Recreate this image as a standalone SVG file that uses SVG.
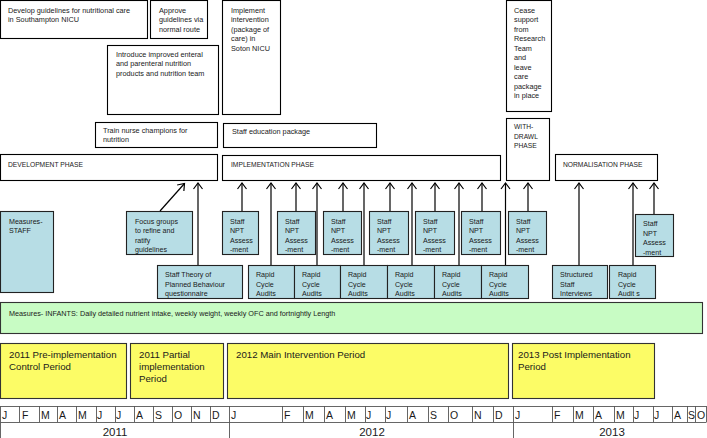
<svg xmlns="http://www.w3.org/2000/svg" width="707" height="438" viewBox="0 0 707 438">
<defs>
<style>
text{font-family:"Liberation Sans",Arial,sans-serif;fill:#1a1a1a}
.box{fill:#fff;stroke:#000;stroke-width:1.1}
.blue{fill:#b7dde5;stroke:#222;stroke-width:1.1}
.green{fill:#c8fcc4;stroke:#333;stroke-width:1.1}
.yel{fill:#fcfc66;stroke:#333;stroke-width:1.1}
.s{font-size:7.3px}
.ph{font-size:6.7px}
.b{font-size:7.1px}
.g{font-size:7.25px}
.y{font-size:9.7px}
.m{font-size:10.5px}
.yr{font-size:11.5px}
.tl{stroke:#555;stroke-width:0.9;fill:none}
.arr{stroke:#000;stroke-width:1.2;fill:none;marker-end:url(#ah)}
</style>
<marker id="ah" viewBox="-7 -6 9 12" markerWidth="9" markerHeight="12" refX="0" refY="0" orient="auto" markerUnits="userSpaceOnUse">
<path d="M-6,-4.5 L0,0 L-6,4.5" fill="none" stroke="#000" stroke-width="1.2"/>
</marker>
</defs>

<!-- top boxes -->
<g id="develop-guidelines"><rect class="box" x="0.5" y="0.5" width="147" height="38"/>
<text class="s" x="8" y="12.5">Develop guidelines for nutritional care</text>
<text class="s" x="8" y="22">in Southampton NICU</text></g>
<g id="approve-guidelines"><rect class="box" x="150.5" y="0.5" width="57" height="38"/>
<text class="s" x="159" y="12.5">Approve</text>
<text class="s" x="159" y="22">guidelines via</text>
<text class="s" x="159" y="31.5">normal  route</text></g>
<g id="introduce"><rect class="box" x="107.5" y="45.5" width="111" height="69"/>
<text class="s" x="116" y="56.5">Introduce improved enteral</text>
<text class="s" x="116" y="66">and parenteral  nutrition</text>
<text class="s" x="116" y="75.5">products and nutrition team</text></g>
<g id="train-nurse"><rect class="box" x="95.5" y="122.5" width="122" height="25"/>
<text class="s" x="103" y="132.5">Train nurse champions for</text>
<text class="s" x="103" y="142">nutrition</text></g>
<g id="development-phase"><rect class="box" x="0.5" y="154.5" width="217" height="26"/>
<text class="ph" x="8" y="166.5">DEVELOPMENT PHASE</text></g>

<g id="implement-intervention"><rect class="box" x="222.5" y="0.5" width="58" height="114"/>
<text class="s" x="231" y="12.5">Implement</text>
<text class="s" x="231" y="22">intervention</text>
<text class="s" x="231" y="31.5">(package of</text>
<text class="s" x="231" y="41">care) in</text>
<text class="s" x="231" y="50.5">Soton NICU</text></g>
<g id="staff-education"><rect class="box" x="223.5" y="123.5" width="153" height="24"/>
<text class="s" x="232" y="133.5">Staff  education  package</text></g>
<g id="implementation-phase"><rect class="box" x="222.5" y="155.5" width="278" height="25"/>
<text class="ph" x="231" y="166.5">IMPLEMENTATION PHASE</text></g>

<g id="cease-support"><rect class="box" x="506.5" y="0.5" width="45" height="111"/>
<text class="s" x="514" y="12.5">Cease</text>
<text class="s" x="514" y="22">support</text>
<text class="s" x="514" y="31.5">from</text>
<text class="s" x="514" y="41">Research</text>
<text class="s" x="514" y="50.5">Team</text>
<text class="s" x="514" y="60">and</text>
<text class="s" x="514" y="69.5">leave</text>
<text class="s" x="514" y="79">care</text>
<text class="s" x="514" y="88.5">package</text>
<text class="s" x="514" y="98">in place</text></g>
<g id="withdrawal-phase"><rect class="box" x="506.5" y="118.5" width="43" height="62"/>
<text class="ph" x="514" y="129">WITH-</text>
<text class="ph" x="514" y="138.5">DRAWL</text>
<text class="ph" x="514" y="148">PHASE</text></g>
<g id="normalisation-phase"><rect class="box" x="555.5" y="154.5" width="102" height="26"/>
<text class="ph" x="563" y="166.5">NORMALISATION PHASE</text></g>

<!-- measures staff -->
<g id="measures-staff"><rect class="blue" x="0.5" y="211.5" width="53" height="81"/>
<text class="b" x="9" y="223.5">Measures-</text>
<text class="b" x="9" y="233">STAFF</text></g>
<g id="focus-groups"><rect class="blue" x="126.5" y="211.5" width="66" height="43"/>
<text class="b" x="135" y="223.5">Focus groups</text>
<text class="b" x="135" y="233">to refine and</text>
<text class="b" x="135" y="242.5">ratify</text>
<text class="b" x="135" y="252">guidelines</text></g>
<g id="staff-theory"><rect class="blue" x="157.5" y="265.5" width="85" height="33"/>
<text class="b" x="165" y="277">Staff Theory of</text>
<text class="b" x="165" y="286.5">Planned Behaviour</text>
<text class="b" x="165" y="296">questionnaire</text></g>

<g id="npt1"><rect class="blue" x="222.5" y="211.5" width="36" height="43"/>
<text class="b" x="230" y="223.5">Staff</text><text class="b" x="230" y="233">NPT</text><text class="b" x="230" y="242.5">Assess</text><text class="b" x="230" y="252">-ment</text></g>
<g id="npt2"><rect class="blue" x="277.5" y="211.5" width="38" height="43"/>
<text class="b" x="285" y="223.5">Staff</text><text class="b" x="285" y="233">NPT</text><text class="b" x="285" y="242.5">Assess</text><text class="b" x="285" y="252">-ment</text></g>
<g id="npt3"><rect class="blue" x="323.5" y="211.5" width="38" height="43"/>
<text class="b" x="331" y="223.5">Staff</text><text class="b" x="331" y="233">NPT</text><text class="b" x="331" y="242.5">Assess</text><text class="b" x="331" y="252">-ment</text></g>
<g id="npt4"><rect class="blue" x="369.5" y="211.5" width="39" height="43"/>
<text class="b" x="377" y="223.5">Staff</text><text class="b" x="377" y="233">NPT</text><text class="b" x="377" y="242.5">Assess</text><text class="b" x="377" y="252">-ment</text></g>
<g id="npt5"><rect class="blue" x="415.5" y="211.5" width="39" height="43"/>
<text class="b" x="423" y="223.5">Staff</text><text class="b" x="423" y="233">NPT</text><text class="b" x="423" y="242.5">Assess</text><text class="b" x="423" y="252">-ment</text></g>
<g id="npt6"><rect class="blue" x="461.5" y="211.5" width="39" height="43"/>
<text class="b" x="469" y="223.5">Staff</text><text class="b" x="469" y="233">NPT</text><text class="b" x="469" y="242.5">Assess</text><text class="b" x="469" y="252">-ment</text></g>
<g id="npt7"><rect class="blue" x="508.5" y="211.5" width="38" height="43"/>
<text class="b" x="516" y="223.5">Staff</text><text class="b" x="516" y="233">NPT</text><text class="b" x="516" y="242.5">Assess</text><text class="b" x="516" y="252">-ment</text></g>
<g id="npt8"><rect class="blue" x="635.5" y="214.5" width="38" height="42"/>
<text class="b" x="643" y="226">Staff</text><text class="b" x="643" y="235.5">NPT</text><text class="b" x="643" y="245">Assess</text><text class="b" x="643" y="254.5">-ment</text></g>

<g id="rca1"><rect class="blue" x="248.5" y="265.5" width="46" height="33"/>
<text class="b" x="256" y="277">Rapid</text><text class="b" x="256" y="286.5">Cycle</text><text class="b" x="256" y="296">Audits</text></g>
<g id="rca2"><rect class="blue" x="294.5" y="265.5" width="46" height="33"/>
<text class="b" x="302" y="277">Rapid</text><text class="b" x="302" y="286.5">Cycle</text><text class="b" x="302" y="296">Audits</text></g>
<g id="rca3"><rect class="blue" x="340.5" y="265.5" width="47" height="33"/>
<text class="b" x="348" y="277">Rapid</text><text class="b" x="348" y="286.5">Cycle</text><text class="b" x="348" y="296">Audits</text></g>
<g id="rca4"><rect class="blue" x="387.5" y="265.5" width="47" height="33"/>
<text class="b" x="395" y="277">Rapid</text><text class="b" x="395" y="286.5">Cycle</text><text class="b" x="395" y="296">Audits</text></g>
<g id="rca5"><rect class="blue" x="434.5" y="265.5" width="47" height="33"/>
<text class="b" x="442" y="277">Rapid</text><text class="b" x="442" y="286.5">Cycle</text><text class="b" x="442" y="296">Audits</text></g>
<g id="rca6"><rect class="blue" x="481.5" y="265.5" width="47" height="33"/>
<text class="b" x="489" y="277">Rapid</text><text class="b" x="489" y="286.5">Cycle</text><text class="b" x="489" y="296">Audits</text></g>
<g id="structured-interviews"><rect class="blue" x="552.5" y="265.5" width="55" height="33"/>
<text class="b" x="560" y="277">Structured</text><text class="b" x="560" y="286.5">Staff</text><text class="b" x="560" y="296">Interviews</text></g>
<g id="rca7"><rect class="blue" x="609.5" y="265.5" width="46" height="33"/>
<text class="b" x="618" y="277">Rapid</text><text class="b" x="618" y="286.5">Cycle</text><text class="b" x="618" y="296">Audit s</text></g>

<!-- connectors -->
<g id="connectors">
<line class="arr" x1="160" y1="211" x2="184.5" y2="183.5"/>
<line class="arr" x1="198" y1="265" x2="198" y2="183"/>
<line class="arr" x1="242" y1="211" x2="242" y2="183"/>
<line class="arr" x1="271" y1="265" x2="271" y2="183"/>
<line class="arr" x1="296" y1="211" x2="296" y2="183"/>
<line class="arr" x1="317" y1="265" x2="317" y2="183"/>
<line class="arr" x1="343" y1="211" x2="343" y2="183"/>
<line class="arr" x1="364" y1="265" x2="364" y2="183"/>
<line class="arr" x1="390" y1="211" x2="390" y2="183"/>
<line class="arr" x1="412" y1="265" x2="412" y2="183"/>
<line class="arr" x1="435" y1="211" x2="435" y2="183"/>
<line class="arr" x1="459" y1="265" x2="459" y2="183"/>
<line class="arr" x1="482" y1="211" x2="482" y2="183"/>
<line class="arr" x1="505.5" y1="265" x2="505.5" y2="183"/>
<line class="arr" x1="528" y1="211" x2="528" y2="183"/>
<line class="arr" x1="579" y1="265" x2="579" y2="183"/>
<line class="arr" x1="633" y1="265" x2="633" y2="183"/>
<line class="arr" x1="654" y1="214" x2="654" y2="183"/>
</g>

<!-- infants measures -->
<g id="measures-infants"><rect class="green" x="0.5" y="302.5" width="702" height="31"/>
<text class="g" x="9" y="316">Measures- INFANTS: Daily detailed nutrient intake, weekly weight, weekly OFC and fortnightly Length</text></g>

<!-- periods -->
<g id="period-2011-pre"><rect class="yel" x="0.5" y="343.5" width="126" height="55"/>
<text class="y" x="9" y="357.5">2011 Pre-implementation</text>
<text class="y" x="9" y="369.5">Control Period</text></g>
<g id="period-2011-partial"><rect class="yel" x="130.5" y="343.5" width="93" height="55"/>
<text class="y" x="139" y="357.5">2011 Partial</text>
<text class="y" x="139" y="369.5">implementation</text>
<text class="y" x="139" y="381.5">Period</text></g>
<g id="period-2012-main"><rect class="yel" x="227.5" y="343.5" width="281" height="55"/>
<text class="y" x="236" y="357.5">2012 Main Intervention Period</text></g>
<g id="period-2013-post"><rect class="yel" x="512.5" y="343.5" width="142" height="55"/>
<text class="y" x="518" y="357.5">2013 Post Implementation</text>
<text class="y" x="518" y="369.5">Period</text></g>

<!-- timeline -->
<g id="timeline">
<path class="tl" d="M0.5,406.5 H706.5 M0.5,422.5 H706.5 M0.5,406 V438 M229.5,406 V438 M513.5,406 V438 M706.5,406 V422"/>
<path class="tl" d="M19.5,406 V422 M39.5,406 V422 M57.5,406 V422 M76.5,406 V422 M96.5,406 V422 M115.5,406 V422 M134.5,406 V422 M153.5,406 V422 M172.5,406 V422 M191.5,406 V422 M210.5,406 V422
M282.5,406 V422 M303.5,406 V422 M324.5,406 V422 M345.5,406 V422 M365.5,406 V422 M385.5,406 V422 M407.5,406 V422 M428.5,406 V422 M448.5,406 V422 M472.5,406 V422 M493.5,406 V422
M552.5,406 V422 M573.5,406 V422 M593.5,406 V422 M614.5,406 V422 M633.5,406 V422 M653.5,406 V422 M672.5,406 V422 M687.5,406 V422 M695.5,406 V422"/>
<text class="m" x="2" y="419">J</text><text class="m" x="22" y="419">F</text><text class="m" x="41" y="419">M</text><text class="m" x="59" y="419">A</text><text class="m" x="78" y="419">M</text><text class="m" x="97" y="419">J</text><text class="m" x="116" y="419">J</text><text class="m" x="136" y="419">A</text><text class="m" x="155" y="419">S</text><text class="m" x="174" y="419">O</text><text class="m" x="193" y="419">N</text><text class="m" x="212" y="419">D</text>
<text class="m" x="231" y="419">J</text><text class="m" x="284" y="419">F</text><text class="m" x="305" y="419">M</text><text class="m" x="326" y="419">A</text><text class="m" x="347" y="419">M</text><text class="m" x="366" y="419">J</text><text class="m" x="386" y="419">J</text><text class="m" x="409" y="419">A</text><text class="m" x="430" y="419">S</text><text class="m" x="450" y="419">O</text><text class="m" x="474" y="419">N</text><text class="m" x="495" y="419">D</text>
<text class="m" x="515" y="419">J</text><text class="m" x="554" y="419">F</text><text class="m" x="575" y="419">M</text><text class="m" x="595" y="419">A</text><text class="m" x="616" y="419">M</text><text class="m" x="634" y="419">J</text><text class="m" x="654" y="419">J</text><text class="m" x="674" y="419">A</text><text class="m" x="688" y="419">S</text><text class="m" x="697" y="419">O</text>
<text class="yr" x="115" y="436" text-anchor="middle">2011</text>
<text class="yr" x="372" y="436" text-anchor="middle">2012</text>
<text class="yr" x="612" y="436" text-anchor="middle">2013</text>
</g>
</svg>
